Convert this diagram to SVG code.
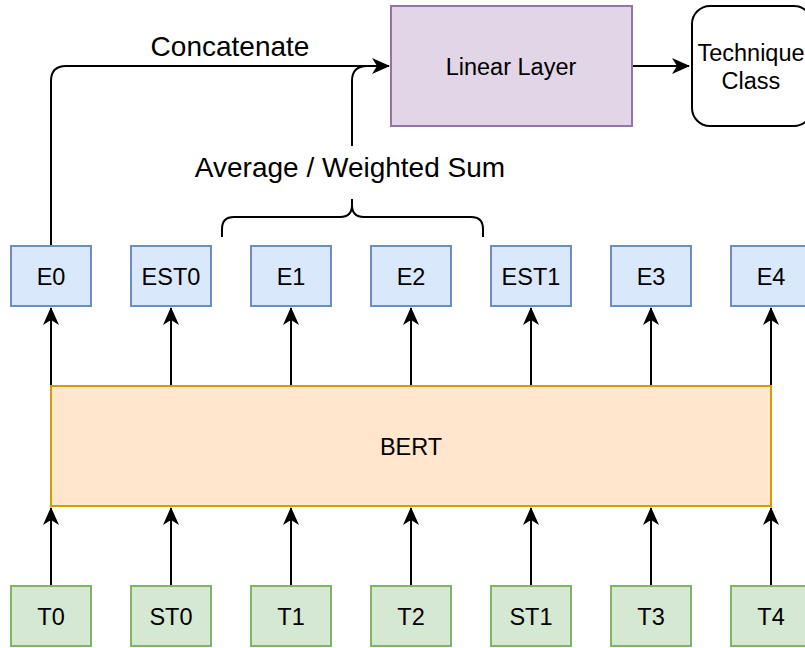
<svg xmlns="http://www.w3.org/2000/svg" width="805" height="648" viewBox="0 0 805 648">
<style>
text{font-family:"Liberation Sans",Arial,sans-serif;fill:#000;text-anchor:middle;}
.lbl{font-size:23.5px;}
.big{font-size:28px;}
.e{fill:#dae8fc;stroke:#6c8ebf;stroke-width:2;}
.t{fill:#d5e8d4;stroke:#82b366;stroke-width:2;}
.c{fill:none;stroke:#000;stroke-width:2;}
</style>
<defs>
<marker id="arr" viewBox="0 0 18 16" refX="17" refY="8" markerWidth="18" markerHeight="16" markerUnits="userSpaceOnUse" orient="auto">
<path d="M0,0 L18,8 L0,16 L5,8 Z" fill="#000"/>
</marker>
</defs>
<rect width="805" height="648" fill="#fff"/>
<g id="connectors">
<path class="c" d="M51,246 V81 Q51,66 66,66 H389" marker-end="url(#arr)"/>
<path class="c" d="M352,146 V81 Q352,66 367,66"/>
<path class="c" d="M222,237 V229 Q222,217 234,217 H340 Q352,217 352,205 V199 M352,205 Q352,217 364,217 H471 Q483,217 483,229 V237"/>
<path class="c" d="M632,66 H689" marker-end="url(#arr)"/>
<path class="c" d="M51,386 V308" marker-end="url(#arr)"/>
<path class="c" d="M171,386 V308" marker-end="url(#arr)"/>
<path class="c" d="M291,386 V308" marker-end="url(#arr)"/>
<path class="c" d="M411,386 V308" marker-end="url(#arr)"/>
<path class="c" d="M531,386 V308" marker-end="url(#arr)"/>
<path class="c" d="M651,386 V308" marker-end="url(#arr)"/>
<path class="c" d="M771,386 V308" marker-end="url(#arr)"/>
<path class="c" d="M51,586 V508" marker-end="url(#arr)"/>
<path class="c" d="M171,586 V508" marker-end="url(#arr)"/>
<path class="c" d="M291,586 V508" marker-end="url(#arr)"/>
<path class="c" d="M411,586 V508" marker-end="url(#arr)"/>
<path class="c" d="M531,586 V508" marker-end="url(#arr)"/>
<path class="c" d="M651,586 V508" marker-end="url(#arr)"/>
<path class="c" d="M771,586 V508" marker-end="url(#arr)"/>
<text class="big" x="230" y="56">Concatenate</text>
<text class="big" x="350" y="177">Average / Weighted Sum</text>
</g>
<g id="linear"><rect x="391" y="6" width="241" height="120" fill="#e1d5e7" stroke="#9673a6" stroke-width="2"/><text class="lbl" x="511" y="75">Linear Layer</text></g>
<g id="technique"><rect x="692" y="6" width="120" height="120" rx="18" fill="#fff" stroke="#000" stroke-width="2"/><text class="lbl" x="751" y="61">Technique</text><text class="lbl" x="751" y="89">Class</text></g>
<g id="bert"><rect x="51" y="386" width="720" height="120" fill="#ffe6cc" stroke="#d79b00" stroke-width="2"/><text class="lbl" x="411" y="455">BERT</text></g>
<g id="E0"><rect class="e" x="11" y="246" width="80" height="60"/><text class="lbl" x="51" y="285">E0</text></g>
<g id="EST0"><rect class="e" x="131" y="246" width="80" height="60"/><text class="lbl" x="171" y="285">EST0</text></g>
<g id="E1"><rect class="e" x="251" y="246" width="80" height="60"/><text class="lbl" x="291" y="285">E1</text></g>
<g id="E2"><rect class="e" x="371" y="246" width="80" height="60"/><text class="lbl" x="411" y="285">E2</text></g>
<g id="EST1"><rect class="e" x="491" y="246" width="80" height="60"/><text class="lbl" x="531" y="285">EST1</text></g>
<g id="E3"><rect class="e" x="611" y="246" width="80" height="60"/><text class="lbl" x="651" y="285">E3</text></g>
<g id="E4"><rect class="e" x="731" y="246" width="80" height="60"/><text class="lbl" x="771" y="285">E4</text></g>
<g id="T0"><rect class="t" x="11" y="586" width="80" height="60"/><text class="lbl" x="51" y="625">T0</text></g>
<g id="ST0"><rect class="t" x="131" y="586" width="80" height="60"/><text class="lbl" x="171" y="625">ST0</text></g>
<g id="T1"><rect class="t" x="251" y="586" width="80" height="60"/><text class="lbl" x="291" y="625">T1</text></g>
<g id="T2"><rect class="t" x="371" y="586" width="80" height="60"/><text class="lbl" x="411" y="625">T2</text></g>
<g id="ST1"><rect class="t" x="491" y="586" width="80" height="60"/><text class="lbl" x="531" y="625">ST1</text></g>
<g id="T3"><rect class="t" x="611" y="586" width="80" height="60"/><text class="lbl" x="651" y="625">T3</text></g>
<g id="T4"><rect class="t" x="731" y="586" width="80" height="60"/><text class="lbl" x="771" y="625">T4</text></g>
</svg>
